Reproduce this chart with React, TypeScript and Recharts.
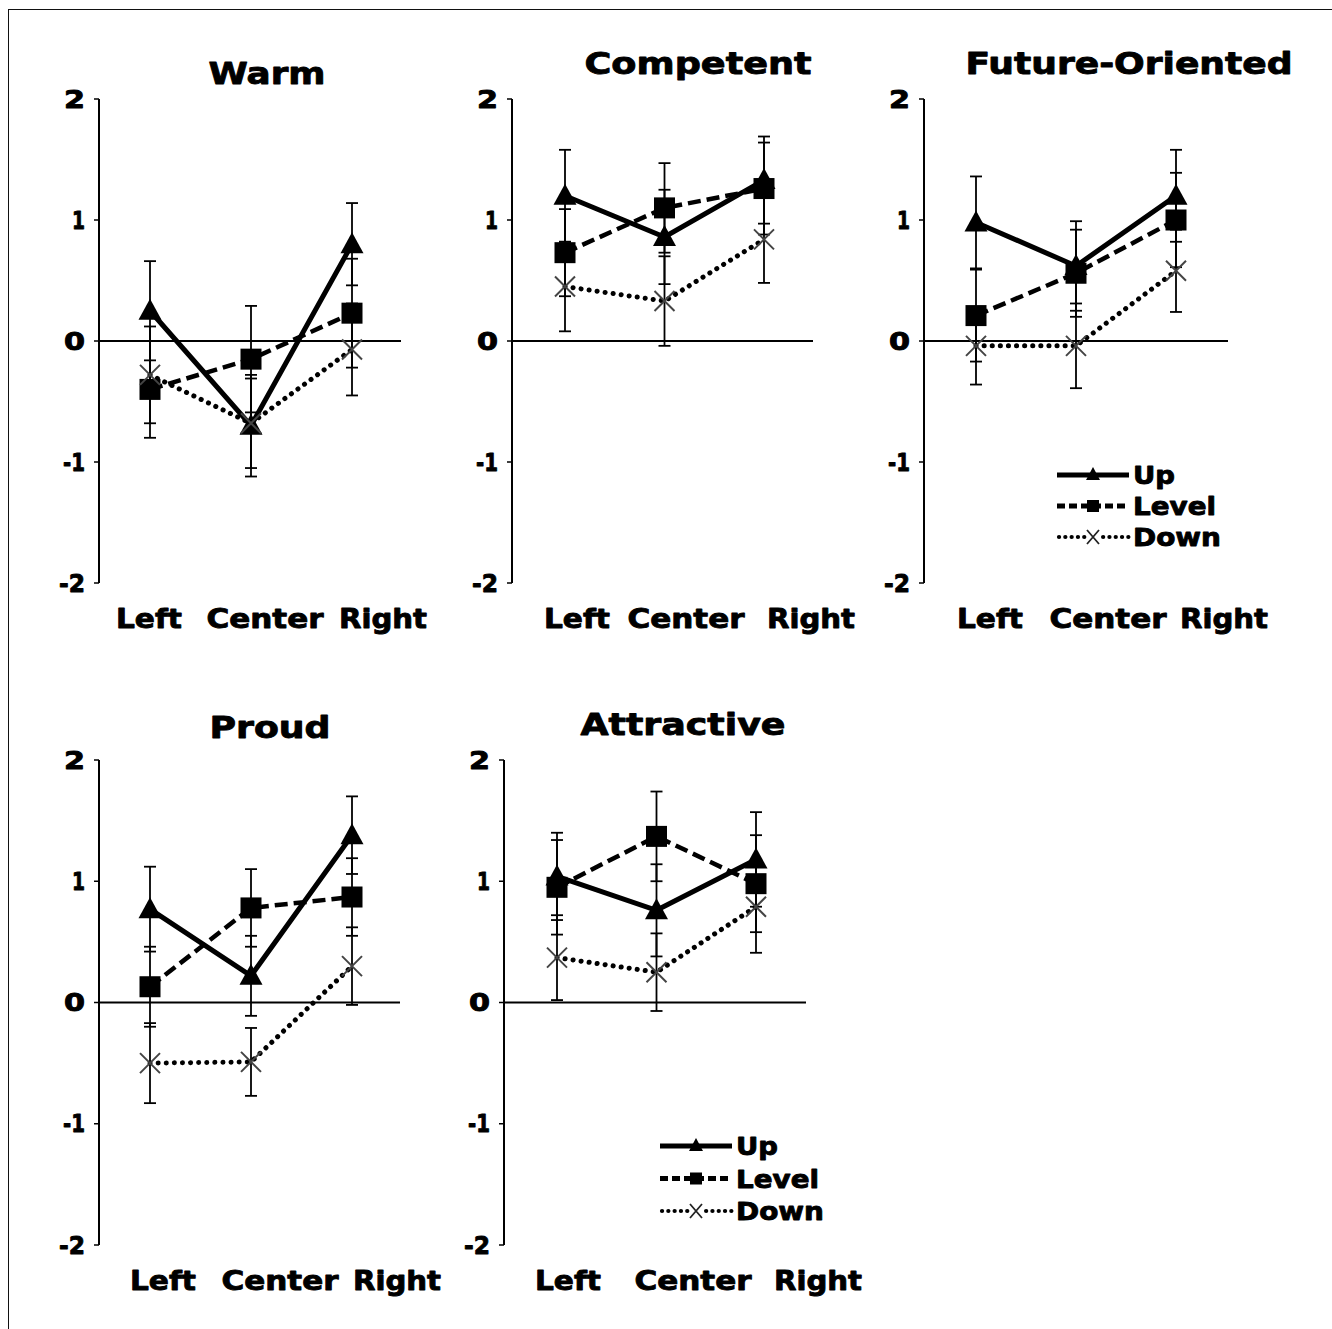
import React from 'react';
import { LineChart, Line, XAxis, YAxis, ErrorBar, ReferenceLine, Legend } from 'recharts';

const categories = ['Left', 'Center', 'Right'];
const seriesNames = ['Up', 'Level', 'Down'];
const yTicks = [-2, -1, 0, 1, 2];

// Warm
const warmUp = [0.25, -0.7, 0.8];
const warmUpErr = [0.41, 0.42, 0.34];
const warmLevel = [-0.4, -0.15, 0.23];
const warmLevelErr = [0.4, 0.44, 0.45];
const warmDown = [-0.28, -0.68, -0.07];
const warmDownErr = [0.4, 0.37, 0.38];

// Competent
const compUp = [1.2, 0.86, 1.33];
const compUpErr = [0.38, 0.39, 0.36];
const compLevel = [0.73, 1.1, 1.26];
const compLevelErr = [0.36, 0.37, 0.38];
const compDown = [0.45, 0.33, 0.84];
const compDownErr = [0.37, 0.37, 0.36];

// Future-Oriented
const futUp = [0.98, 0.62, 1.2];
const futUpErr = [0.38, 0.37, 0.38];
const futLevel = [0.21, 0.56, 1.0];
const futLevelErr = [0.38, 0.36, 0.39];
const futDown = [-0.04, -0.04, 0.58];
const futDownErr = [0.32, 0.35, 0.34];

// Proud
const proudUp = [0.77, 0.22, 1.38];
const proudUpErr = [0.35, 0.33, 0.32];
const proudLevel = [0.13, 0.78, 0.87];
const proudLevelErr = [0.33, 0.32, 0.32];
const proudDown = [-0.5, -0.49, 0.3];
const proudDownErr = [0.33, 0.28, 0.32];

// Attractive
const attUp = [1.04, 0.76, 1.18];
const attUpErr = [0.36, 0.38, 0.39];
const attLevel = [0.95, 1.37, 0.98];
const attLevelErr = [0.39, 0.37, 0.4];
const attDown = [0.37, 0.25, 0.79];
const attDownErr = [0.35, 0.32, 0.38];

const FONT = '"DejaVu Sans", "Liberation Sans", Arial, sans-serif';

// rendered widths of the heavy, extended lettering
const TEXT_W: Record<string, number> = {
  Warm: 117, Competent: 227, 'Future-Oriented': 327, Proud: 121, Attractive: 205,
  Left: 66, Center: 117, Right: 88,
  Up: 42, Level: 83, Down: 88,
  '2': 21, '1': 13, '0': 21, '-1': 22, '-2': 26,
};

function buildData(up: number[], upErr: number[], level: number[], levelErr: number[], down: number[], downErr: number[]) {
  return categories.map((cat, i) => ({
    cat,
    up: up[i], upErr: upErr[i],
    level: level[i], levelErr: levelErr[i],
    down: down[i], downErr: downErr[i],
  }));
}

type PanelDef = {
  title: string;
  titleX: number;
  titleY: number;
  data: any[];
  plotLeft: number;
  plotTop: number;
  plotW: number;
  plotH: number;
  padL: number;
  padR: number;
  labelX: number[];
  labelBase: number;
  legend?: { x: number; y: number; gap: number };
};

const panels: PanelDef[] = [
  {
    title: 'Warm', titleX: 267, titleY: 84,
    data: buildData(warmUp, warmUpErr, warmLevel, warmLevelErr, warmDown, warmDownErr),
    plotLeft: 99, plotTop: 99, plotW: 302, plotH: 484, padL: 51, padR: 49,
    labelX: [149, 265, 383], labelBase: 628,
  },
  {
    title: 'Competent', titleX: 698, titleY: 74,
    data: buildData(compUp, compUpErr, compLevel, compLevelErr, compDown, compDownErr),
    plotLeft: 512, plotTop: 99, plotW: 301, plotH: 484, padL: 53, padR: 49,
    labelX: [577, 686, 811], labelBase: 628,
  },
  {
    title: 'Future-Oriented', titleX: 1129, titleY: 74,
    data: buildData(futUp, futUpErr, futLevel, futLevelErr, futDown, futDownErr),
    plotLeft: 924, plotTop: 99, plotW: 304, plotH: 484, padL: 52, padR: 52,
    labelX: [990, 1108, 1224], labelBase: 628,
    legend: { x: 1057, y: 475, gap: 31 },
  },
  {
    title: 'Proud', titleX: 270, titleY: 738,
    data: buildData(proudUp, proudUpErr, proudLevel, proudLevelErr, proudDown, proudDownErr),
    plotLeft: 99, plotTop: 760, plotW: 301, plotH: 485, padL: 51, padR: 48,
    labelX: [163, 280, 397], labelBase: 1290,
  },
  {
    title: 'Attractive', titleX: 683, titleY: 735,
    data: buildData(attUp, attUpErr, attLevel, attLevelErr, attDown, attDownErr),
    plotLeft: 504, plotTop: 760, plotW: 302, plotH: 485, padL: 53, padR: 50,
    labelX: [568, 693, 818], labelBase: 1290,
    legend: { x: 660, y: 1146, gap: 32.5 },
  },
];

const heavyText = { fontFamily: FONT, fontWeight: 700, fill: '#000', stroke: '#000', strokeWidth: 0.9, strokeLinejoin: 'round' } as const;

const triangleDot = (props: any) => {
  const { cx, cy, index } = props;
  if (cx == null || cy == null) return <g key={`t-${index}`} />;
  return <path key={`t-${index}`} d={`M${cx},${cy - 12}L${cx + 11.5},${cy + 9}L${cx - 11.5},${cy + 9}Z`} fill="#000" />;
};
const squareDot = (props: any) => {
  const { cx, cy, index } = props;
  if (cx == null || cy == null) return <g key={`s-${index}`} />;
  return <rect key={`s-${index}`} x={cx - 10.5} y={cy - 10.5} width={21} height={21} fill="#000" />;
};
const crossDot = (props: any) => {
  const { cx, cy, index } = props;
  if (cx == null || cy == null) return <g key={`x-${index}`} />;
  return (
    <path key={`x-${index}`} d={`M${cx - 10},${cy - 10}L${cx + 10},${cy + 10}M${cx + 10},${cy - 10}L${cx - 10},${cy + 10}`}
      stroke="#444" strokeWidth={2} fill="none" />
  );
};

const LegendBox = ({ gap }: { gap: number }) => (
  <svg width={180} height={gap * 2 + 30} style={{ display: 'block', overflow: 'visible' }}>
    {seriesNames.map((name, i) => {
      const cy = 15 + i * gap;
      const mx = 36;
      let line: any;
      let marker: any;
      if (i === 0) {
        line = <line x1={0} x2={72} y1={cy} y2={cy} stroke="#000" strokeWidth={5} />;
        marker = <path d={`M${mx},${cy - 8}L${mx + 7},${cy + 5}L${mx - 7},${cy + 5}Z`} fill="#000" />;
      } else if (i === 1) {
        line = <line x1={0} x2={72} y1={cy} y2={cy} stroke="#000" strokeWidth={5} strokeDasharray="8 4" />;
        marker = <rect x={mx - 6} y={cy - 6} width={12} height={12} fill="#000" />;
      } else {
        line = <line x1={2} x2={72} y1={cy} y2={cy} stroke="#000" strokeWidth={4.2} strokeDasharray="0.1 6.2" strokeLinecap="round" />;
        marker = <path d={`M${mx - 6},${cy - 7}L${mx + 6},${cy + 7}M${mx + 6},${cy - 7}L${mx - 6},${cy + 7}`} stroke="#222" strokeWidth={1.8} />;
      }
      return (
        <g key={name}>
          {line}
          {i === 2 ? <rect x={mx - 6} y={cy - 4} width={12} height={8} fill="#fff" /> : null}
          {marker}
          <text x={76} y={cy + 9} fontSize={25} textLength={TEXT_W[name]} lengthAdjust="spacingAndGlyphs" {...heavyText}>{name}</text>
        </g>
      );
    })}
  </svg>
);

const ML = 60;
const MT = 15;
const MR = 90;
const XH = 60;

function Panel({ p }: { p: PanelDef }) {
  const chartLeft = p.plotLeft - ML;
  const chartTop = p.plotTop - MT;
  const width = ML + p.plotW + MR;
  const height = MT + p.plotH + XH;

  const xTick = (props: any) => {
    const { index, payload } = props;
    const label = String(payload.value);
    return (
      <text key={`xt-${index}`} x={p.labelX[index] - chartLeft} y={p.labelBase - chartTop} textAnchor="middle" fontSize={27}
        textLength={TEXT_W[label]} lengthAdjust="spacingAndGlyphs" {...heavyText}>
        {label}
      </text>
    );
  };
  const yTick = (props: any) => {
    const { x, y, payload, index } = props;
    const label = String(payload.value);
    return (
      <text key={`yt-${index}`} x={x - 7} y={y} dy="0.36em" textAnchor="end" fontSize={24}
        textLength={TEXT_W[label]} lengthAdjust="spacingAndGlyphs" {...heavyText}>
        {label}
      </text>
    );
  };

  return (
    <div style={{ position: 'absolute', left: chartLeft, top: chartTop }}>
      <LineChart width={width} height={height} data={p.data} margin={{ top: MT, right: MR, bottom: 0, left: 0 }}>
        <XAxis dataKey="cat" scale="point" padding={{ left: p.padL, right: p.padR }} axisLine={false} tickLine={false}
          tickSize={0} tickMargin={0} height={XH} interval={0} tick={xTick} />
        <YAxis type="number" domain={[-2, 2]} ticks={yTicks} interval={0} width={ML} tickSize={5}
          axisLine={{ stroke: '#000', strokeWidth: 2 }} tickLine={{ stroke: '#000', strokeWidth: 1.5 }} tick={yTick}
          allowDataOverflow />
        <ReferenceLine y={0} stroke="#000" strokeWidth={1.8} />
        <Line dataKey="up" name="Up" stroke="#000" strokeWidth={5} dot={triangleDot} activeDot={false} isAnimationActive={false}>
          <ErrorBar dataKey="upErr" direction="y" width={6} stroke="#000" strokeWidth={1.8} isAnimationActive={false} />
        </Line>
        <Line dataKey="level" name="Level" stroke="#000" strokeWidth={4.5} strokeDasharray="13 6" dot={squareDot} activeDot={false} isAnimationActive={false}>
          <ErrorBar dataKey="levelErr" direction="y" width={6} stroke="#000" strokeWidth={1.8} isAnimationActive={false} />
        </Line>
        <Line dataKey="down" name="Down" stroke="#000" strokeWidth={5} strokeDasharray="0.1 8" strokeLinecap="round" dot={crossDot} activeDot={false} isAnimationActive={false}>
          <ErrorBar dataKey="downErr" direction="y" width={6} stroke="#000" strokeWidth={1.8} isAnimationActive={false} />
        </Line>
        {p.legend ? (
          <Legend layout="vertical" align="center" verticalAlign="middle"
            wrapperStyle={{ left: p.legend.x - chartLeft, top: p.legend.y - 15 - chartTop, width: 180, right: 'auto', bottom: 'auto' }}
            content={() => <LegendBox gap={p.legend!.gap} />} />
        ) : null}
      </LineChart>
    </div>
  );
}

export default function App() {
  return (
    <div style={{ position: 'absolute', left: 0, top: 0, width: 1332, height: 1329, background: '#fff', overflow: 'hidden' }}>
      <div style={{ position: 'absolute', left: 8, top: 9, width: 1330, height: 1330, borderTop: '1.5px solid #111', borderLeft: '1.5px solid #111' }} />
      {panels.map((p) => (
        <Panel key={p.title} p={p} />
      ))}
      <svg width={1332} height={1329} style={{ position: 'absolute', left: 0, top: 0, pointerEvents: 'none' }}>
        {panels.map((p) => (
          <text key={p.title} x={p.titleX} y={p.titleY} textAnchor="middle" fontSize={31}
            textLength={TEXT_W[p.title]} lengthAdjust="spacingAndGlyphs" {...heavyText}>
            {p.title}
          </text>
        ))}
      </svg>
    </div>
  );
}
